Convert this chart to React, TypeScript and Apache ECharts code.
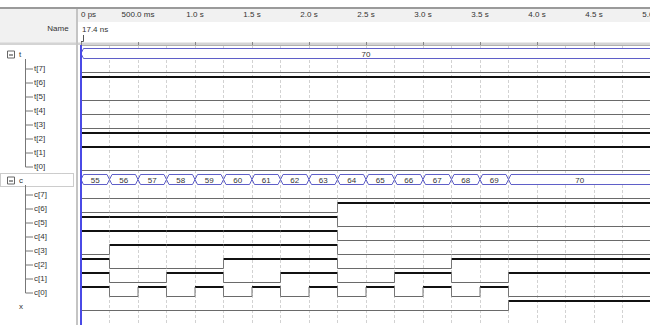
import React, { useEffect, useRef } from "react";
import * as echarts from "echarts";

// ---- data ----
const tickLabels = ["0 ps", "500.0 ms", "1.0 s", "1.5 s", "2.0 s", "2.5 s", "3.0 s", "3.5 s", "4.0 s", "4.5 s", "5.0 s"];
const cursorLabel = "17.4 ns";
const cursorTime = 17.4e-9;
const endTime = 5.0;

const tTimes = [0];
const tValues = [70];
const cTimes = [0, 0.25, 0.5, 0.75, 1.0, 1.25, 1.5, 1.75, 2.0, 2.25, 2.5, 2.75, 3.0, 3.25, 3.5, 3.75];
const cValues = [55, 56, 57, 58, 59, 60, 61, 62, 63, 64, 65, 66, 67, 68, 69, 70];
const xTimes = [0, 3.75];
const xValues = [0, 1];
const bitIndices = [7, 6, 5, 4, 3, 2, 1, 0];

// ---- layout ----
const FONT = '"Liberation Sans Narrow", "Liberation Sans", Arial, sans-serif';
const GRID_LEFT = 81;
const GRID_TOP = 45;
const PX_PER_S = 114;
const ROW = 14;
const HIGH_OFF = 4;
const LOW_OFF = 13.5;
const BUS_TOP = 3.5;
const BUS_BOT = 13.5;
const ROWS_VISIBLE = 20;

type Row = { name: string; kind: "bus" | "bit" | "single"; times: number[]; values: number[]; bit?: number; group?: string };

const rows: Row[] = [];
rows.push({ name: "t", kind: "bus", times: tTimes, values: tValues });
bitIndices.forEach((b) => rows.push({ name: `t[${b}]`, kind: "bit", times: tTimes, values: tValues, bit: b, group: "t" }));
rows.push({ name: "c", kind: "bus", times: cTimes, values: cValues });
bitIndices.forEach((b) => rows.push({ name: `c[${b}]`, kind: "bit", times: cTimes, values: cValues, bit: b, group: "c" }));
rows.push({ name: "x", kind: "single", times: xTimes, values: xValues });

const busData: number[][] = [];
const bitData: number[][] = [];
rows.forEach((r, k) => {
  let prev = -1;
  r.times.forEach((t0, i) => {
    const t1 = i + 1 < r.times.length ? r.times[i + 1] : endTime;
    if (r.kind === "bus") {
      busData.push([t0, t1, k, r.values[i], i + 1 < r.times.length ? 1 : 0]);
    } else {
      const lvl = r.kind === "bit" ? (r.values[i] >> (r.bit as number)) & 1 : r.values[i];
      bitData.push([t0, t1, k, lvl, prev]);
      prev = lvl;
    }
  });
});

function buildGraphics() {
  const g: any[] = [];
  g.push({ type: "rect", shape: { x: 0, y: 7, width: 650, height: 2 }, style: { fill: "#9a9a9a" }, silent: true });
  g.push({ type: "rect", shape: { x: 0, y: 9, width: 77, height: 34 }, style: { fill: "#f1f1f1" }, silent: true });
  g.push({ type: "rect", shape: { x: 78, y: 9, width: 572, height: 13 }, style: { fill: "#f1f1f1" }, silent: true });
  g.push({ type: "rect", shape: { x: 0, y: 42.5, width: 650, height: 2.5 }, style: { fill: "#d4d4d4" }, silent: true });
  g.push({ type: "rect", shape: { x: 76, y: 9, width: 2, height: 316 }, style: { fill: "#c4c4c4" }, silent: true });
  g.push({ type: "text", x: 58, y: 28, style: { text: "Name", fill: "#333", font: `8px ${FONT}`, align: "center", verticalAlign: "middle" } });
  g.push({ type: "text", x: 82, y: 29, style: { text: cursorLabel, fill: "#333", font: `8px ${FONT}`, align: "left", verticalAlign: "middle" } });
  g.push({ type: "polyline", shape: { points: [[83.5, 35], [83.5, 41.5], [81, 41.5]] }, style: { stroke: "#555", lineWidth: 1, fill: null } });

  rows.forEach((r, k) => {
    const cy = GRID_TOP + k * ROW + 9.5;
    if (r.kind === "bus") {
      if (r.name === "c") {
        g.push({ type: "rect", shape: { x: 0.5, y: GRID_TOP + k * ROW + 2.5, width: 73, height: 13 }, style: { fill: "#fff", stroke: "#999", lineWidth: 1, lineDash: [1, 1] } });
      }
      g.push({ type: "rect", shape: { x: 7.5, y: cy - 3.5, width: 7, height: 7 }, style: { fill: "#fff", stroke: "#666", lineWidth: 1 } });
      g.push({ type: "line", shape: { x1: 9, y1: cy + 0.5, x2: 13, y2: cy + 0.5 }, style: { stroke: "#333", lineWidth: 1 } });
      g.push({ type: "text", x: 19, y: cy, style: { text: r.name, fill: "#333", font: `8px ${FONT}`, align: "left", verticalAlign: "middle" } });
      let last = k;
      rows.forEach((rr, kk) => { if (rr.group === r.name) last = kk; });
      const lastCy = GRID_TOP + last * ROW + 9.5;
      g.push({ type: "line", shape: { x1: 25.5, y1: GRID_TOP + k * ROW + 14, x2: 25.5, y2: lastCy + 0.5 }, style: { stroke: "#777", lineWidth: 1 } });
    } else if (r.kind === "bit") {
      g.push({ type: "line", shape: { x1: 25.5, y1: cy + 0.5, x2: 33, y2: cy + 0.5 }, style: { stroke: "#777", lineWidth: 1 } });
      g.push({ type: "text", x: 34, y: cy, style: { text: r.name, fill: "#333", font: `8px ${FONT}`, align: "left", verticalAlign: "middle" } });
    } else {
      g.push({ type: "text", x: 19, y: cy, style: { text: r.name, fill: "#333", font: `8px ${FONT}`, align: "left", verticalAlign: "middle" } });
    }
  });
  return g;
}

export default function App() {
  const ref = useRef<HTMLDivElement>(null);
  useEffect(() => {
    if (!ref.current) return;
    const chart = echarts.init(ref.current, null, { renderer: "svg" });
    chart.setOption({
      animation: false,
      backgroundColor: "#ffffff",
      grid: {
        left: GRID_LEFT, top: GRID_TOP, width: endTime * PX_PER_S, height: ROWS_VISIBLE * ROW,
        outerBoundsMode: "none", containLabel: false,
      },
      xAxis: [
        {
          type: "value", position: "top", offset: GRID_TOP - 22.5, min: 0, max: endTime, interval: 0.5,
          axisLine: { show: true, lineStyle: { color: "#b0b0b0", width: 1 } },
          axisTick: { show: true, length: 3, lineStyle: { color: "#888" } },
          axisLabel: {
            show: true, margin: 4, fontSize: 8, color: "#333", fontFamily: FONT,
            alignMinLabel: "left", hideOverlap: false,
            formatter: (v: number) => tickLabels[Math.round(v / 0.5)] ?? "",
          },
          splitLine: { show: false },
        },
        {
          type: "value", position: "bottom", min: 0, max: endTime, interval: 0.25,
          axisLine: { show: false }, axisTick: { show: false }, axisLabel: { show: false },
          splitLine: { show: true, lineStyle: { color: "#d2d2d2", width: 1, type: [3, 2] } },
        },
      ],
      yAxis: { type: "value", min: 0, max: ROWS_VISIBLE * ROW, inverse: true, show: false, splitLine: { show: false } },
      graphic: buildGraphics(),
      series: [
        {
          type: "custom", xAxisIndex: 0, clip: true, z: 3,
          data: bitData,
          encode: { x: [0, 1], y: 2 },
          renderItem: (_p: any, api: any) => {
            const t0 = api.value(0), t1 = api.value(1), row = api.value(2), lvl = api.value(3), prev = api.value(4);
            const yOf = (l: number) => row * ROW + (l ? HIGH_OFF : LOW_OFF);
            const a = api.coord([t0, yOf(lvl)]);
            const b = api.coord([t1, yOf(lvl)]);
            const ch: any[] = [
              { type: "line", shape: { x1: a[0], y1: a[1], x2: b[0], y2: b[1] }, style: { stroke: lvl ? "#111" : "#6a6a6a", lineWidth: lvl ? 2 : 1 } },
            ];
            if (prev >= 0 && prev !== lvl) {
              const p = api.coord([t0, yOf(prev)]);
              ch.push({ type: "line", shape: { x1: a[0], y1: p[1], x2: a[0], y2: a[1] }, style: { stroke: "#777", lineWidth: 1 } });
            }
            return { type: "group", children: ch };
          },
          markLine: {
            silent: true, symbol: "none", label: { show: false },
            lineStyle: { color: "#4a4ae6", width: 2, type: "solid" },
            data: [{ xAxis: cursorTime }],
          },
        },
        {
          type: "custom", xAxisIndex: 0, clip: true, z: 3,
          data: busData,
          encode: { x: [0, 1], y: 2 },
          renderItem: (_p: any, api: any) => {
            const t0 = api.value(0), t1 = api.value(1), row = api.value(2), val = api.value(3), closed = api.value(4);
            const L = api.coord([t0, row * ROW + BUS_TOP]);
            const R = api.coord([t1, row * ROW + BUS_BOT]);
            const x0 = L[0], x1 = R[0], yT = L[1], yB = R[1], yM = (yT + yB) / 2, s = 2.5;
            const xe = closed ? x1 : x1 + 2 * s;
            return {
              type: "group",
              children: [
                {
                  type: "polygon",
                  shape: { points: [[x0, yM], [x0 + s, yT], [xe - s, yT], [xe, yM], [xe - s, yB], [x0 + s, yB]] },
                  style: { fill: "#fff", stroke: "#5f5fc8", lineWidth: 1 },
                },
                {
                  type: "text", x: (x0 + x1) / 2, y: yM + 0.5,
                  style: { text: String(val), fill: "#333", font: `8px ${FONT}`, align: "center", verticalAlign: "middle" },
                },
              ],
            };
          },
        },
      ],
    });
    return () => chart.dispose();
  }, []);
  return <div ref={ref} style={{ position: "fixed", left: 0, top: 0, width: 650, height: 325, overflow: "hidden", background: "#fff" }} />;
}
